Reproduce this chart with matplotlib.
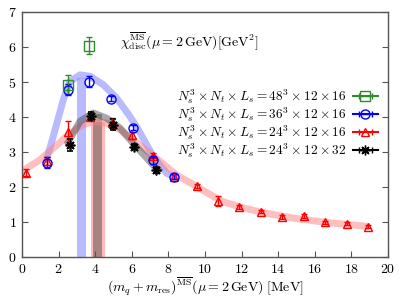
import matplotlib
matplotlib.use("Agg")
import matplotlib.pyplot as plt
import numpy as np
from matplotlib.ticker import FuncFormatter, MultipleLocator

plt.rcParams['mathtext.fontset'] = 'cm'
plt.rcParams['font.family'] = ['serif']
plt.rcParams['font.serif'] = ['cmr10', 'DejaVu Serif']
plt.rcParams['axes.formatter.use_mathtext'] = True

# ---- data ----
green_x = [2.5, 3.68]
green_y = [4.93, 6.05]
green_e = [0.28, 0.25]

blue_x = [1.35, 2.5, 3.68, 4.86, 6.05, 7.18, 8.33]
blue_y = [2.70, 4.79, 5.02, 4.53, 3.70, 2.77, 2.30]
blue_e = [0.15, 0.15, 0.15, 0.07, 0.08, 0.10, 0.07]

red_x = [0.2, 1.35, 2.5, 3.7, 4.9, 6.0, 7.18, 8.33, 9.55, 10.73, 11.88,
         13.04, 14.22, 15.41, 16.56, 17.74, 18.93]
red_y = [2.41, 2.75, 3.57, 4.00, 3.83, 3.48, 2.90, 2.29, 2.03, 1.60, 1.44,
         1.30, 1.15, 1.17, 0.99, 0.95, 0.87]
red_e = [0.10, 0.12, 0.33, 0.08, 0.15, 0.10, 0.08, 0.06, 0.05, 0.15, 0.06,
         0.05, 0.05, 0.05, 0.05, 0.04, 0.04]

black_x = [2.6, 3.8, 5.0, 6.15, 7.3]
black_y = [3.20, 4.03, 3.79, 3.16, 2.49]
black_e = [0.18, 0.12, 0.15, 0.07, 0.08]

# fit bands (centre lines)
bband_x = [1.3, 1.71, 2.26, 2.62, 3.17, 3.72, 4.44, 5.17, 5.9, 6.36, 7.18, 7.9, 8.45]
bband_y = [2.70, 3.45, 4.50, 5.02, 5.21, 5.17, 4.93, 4.55, 4.02, 3.64, 2.87, 2.40, 2.25]

rband_x = [0.0, 0.98, 1.71, 2.44, 3.17, 3.9, 4.63, 5.36, 6.08, 7.0, 8.45, 9.5,
           10.5, 11.0, 12.0, 13.0, 14.0, 15.0, 16.0, 17.0, 18.0, 19.0]
rband_y = [2.45, 2.78, 3.11, 3.45, 3.74, 3.88, 3.83, 3.64, 3.35, 2.97, 2.35, 2.03,
           1.72, 1.58, 1.42, 1.29, 1.19, 1.10, 1.03, 0.97, 0.92, 0.87]

kband_x = [2.44, 3.17, 3.9, 4.63, 5.36, 6.08, 6.7, 7.18, 7.6]
kband_y = [3.21, 3.88, 4.12, 3.97, 3.69, 3.25, 2.90, 2.62, 2.42]

# peak-position bands: (xmin, xmax, height)
peak_blue = (3.0, 3.5, 5.12)
peak_red = (3.77, 4.54, 3.87)
peak_black = (3.9, 4.35, 4.08)

legend_labels = [r'$N_s^3\times N_t\times L_s=48^3\times12\times16$',
                 r'$N_s^3\times N_t\times L_s=36^3\times12\times16$',
                 r'$N_s^3\times N_t\times L_s=24^3\times12\times16$',
                 r'$N_s^3\times N_t\times L_s=24^3\times12\times32$']

fig = plt.figure(figsize=(4.07, 2.98), dpi=100)
ax = fig.add_axes([0.054, 0.1376, 0.899, 0.8211])

bcol = (0.55, 0.55, 1.0)
rcol = (1.0, 0.5, 0.5)
kcol = (0.25, 0.25, 0.25)

ax.fill_between([peak_blue[0], peak_blue[1]], 0, peak_blue[2], color=bcol, alpha=0.6, lw=0, zorder=1)
ax.fill_between([peak_red[0], peak_red[1]], 0, peak_red[2], color=rcol, alpha=0.55, lw=0, zorder=1)
ax.fill_between([peak_black[0], peak_black[1]], 0, peak_black[2], color=kcol, alpha=0.45, lw=0, zorder=1.1)

ax.plot(bband_x, bband_y, color=bcol, alpha=0.6, lw=5, solid_capstyle='butt', solid_joinstyle='round', zorder=1.2)
ax.plot(rband_x, rband_y, color=rcol, alpha=0.5, lw=5, solid_capstyle='butt', solid_joinstyle='round', zorder=1.2)
ax.plot(kband_x, kband_y, color=kcol, alpha=0.45, lw=5, solid_capstyle='butt', solid_joinstyle='round', zorder=1.3)

green = '#2e8b2e'
common = dict(ls='none', capsize=2.5, elinewidth=1.0, capthick=1.0, zorder=3)
ax.errorbar(red_x, red_y, yerr=red_e, color='red', marker='^', ms=6, mfc='none', mew=1.0, **common)
ax.errorbar(blue_x, blue_y, yerr=blue_e, color='blue', marker='o', ms=6.5, mfc='none', mew=1.0, **common)
ax.errorbar(green_x, green_y, yerr=green_e, color=green, marker='s', ms=6.5, mfc='none', mew=1.0, **common)
ax.errorbar(black_x, black_y, yerr=black_e, color='black', marker=(8, 2, 0), ms=7, mew=1.2, **common)

# legend proxies with horizontal error bars (nothing drawn in the axes)
pc = dict(capsize=2.5, elinewidth=1.0, capthick=1.0, mew=1.0)
h_g = ax.errorbar([np.nan], [np.nan], xerr=[1], color=green, marker='s', ms=6.5, mfc='none', **pc)
h_b = ax.errorbar([np.nan], [np.nan], xerr=[1], color='blue', marker='o', ms=6.5, mfc='none', **pc)
h_r = ax.errorbar([np.nan], [np.nan], xerr=[1], color='red', marker='^', ms=6, mfc='none', **pc)
h_k = ax.errorbar([np.nan], [np.nan], xerr=[1], color='black', marker=(8, 2, 0), ms=7, **pc)
leg = ax.legend([h_g, h_b, h_r, h_k], legend_labels, loc='upper right',
                bbox_to_anchor=(0.995, 0.725), frameon=False, markerfirst=False,
                fontsize=9.6, handlelength=1.9, handletextpad=0.5, labelspacing=-0.08,
                borderaxespad=0.2)

ax.text(0.268, 0.882, r'$\chi_{\rm disc}^{\overline{\rm MS}}(\mu=2\,{\rm GeV})[{\rm GeV}^2]$',
        transform=ax.transAxes, fontsize=10, va='center', ha='left')

ax.set_xlim(0, 20)
ax.set_ylim(0, 7)
ax.xaxis.set_major_locator(MultipleLocator(2))
ax.yaxis.set_major_locator(MultipleLocator(1))
fmt = FuncFormatter(lambda v, p: r'$%d$' % round(v))
ax.xaxis.set_major_formatter(fmt)
ax.yaxis.set_major_formatter(fmt)
ax.tick_params(direction='in', length=4, width=0.8, color='#555555',
               labelsize=10, top=False, right=True, pad=4)
for s in ax.spines.values():
    s.set_color('#555555')
    s.set_linewidth(1.0)

ax.set_xlabel(r'$(m_q+m_{\rm res})^{\overline{\rm MS}}(\mu=2\,{\rm GeV})\;[{\rm MeV}]$',
              fontsize=10)
ax.xaxis.set_label_coords(0.5, -0.076)

fig.savefig('out.png', dpi=100)
